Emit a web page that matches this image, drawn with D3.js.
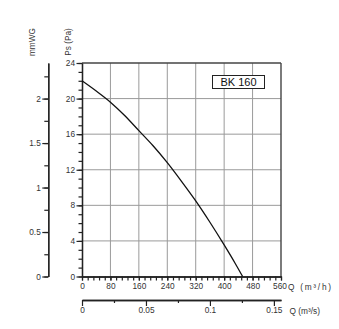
<!DOCTYPE html>
<html>
<head>
<meta charset="utf-8">
<script src="https://cdn.jsdelivr.net/npm/d3@7"></script>
<style>
  html, body { margin: 0; padding: 0; background: #fff; }
  svg { display: block; font-family: "Liberation Sans", Arial, sans-serif; }
</style>
</head>
<body>
<svg id="chart" width="339" height="329"></svg>
<script>
// Fan curve: airflow Q (m³/h) vs static pressure Ps (Pa)
const flowM3h = [0, 40, 80, 120, 160, 200, 240, 280, 320, 360, 400, 430, 452];
const pressurePa = [22, 20.85, 19.6, 18.1, 16.4, 14.7, 12.8, 10.7, 8.5, 6.1, 3.55, 1.55, 0];

const qTicks = [0, 80, 160, 240, 320, 400, 480, 560];
const paTicks = [0, 4, 8, 12, 16, 20, 24];
const mmTicks = [0, 0.5, 1, 1.5, 2];
const m3sTicks = [0, 0.05, 0.1, 0.15];
const modelLabel = "BK 160";

const svg = d3.select("#chart");
const plotL = 82, plotR = 281, plotT = 63, plotB = 276.5;

const x = d3.scaleLinear().domain([0, 560]).range([plotL, plotR]);
const y = d3.scaleLinear().domain([0, 24]).range([plotB, plotT]);
const yMm = d3.scaleLinear().domain([0, 2.4]).range([plotB, plotT]);
const xS = d3.scaleLinear().domain([0, 560 / 3600]).range([plotL, plotR]);

const axisCol = "#222";
const gridCol = "#9a9a9a";
const textCol = "#333";
const fs = 8.3;

// grid
const grid = svg.append("g");
grid.selectAll(".vg").data(qTicks.slice(1, -1)).join("line")
  .attr("x1", d => x(d)).attr("x2", d => x(d))
  .attr("y1", plotT).attr("y2", plotB)
  .attr("stroke", gridCol).attr("stroke-width", 1);
grid.selectAll(".hg").data(paTicks.slice(1, -1)).join("line")
  .attr("x1", plotL).attr("x2", plotR)
  .attr("y1", d => y(d)).attr("y2", d => y(d))
  .attr("stroke", gridCol).attr("stroke-width", 1);

// frame: top and right borders
svg.append("line").attr("x1", plotL).attr("x2", plotR).attr("y1", plotT).attr("y2", plotT)
  .attr("stroke", "#444").attr("stroke-width", 1.4);
svg.append("line").attr("x1", plotR).attr("x2", plotR).attr("y1", plotT).attr("y2", plotB)
  .attr("stroke", "#444").attr("stroke-width", 1.4);

function styleAxis(g) {
  g.selectAll("path.domain").attr("stroke", axisCol).attr("stroke-width", 1.3);
  g.selectAll(".tick line").attr("stroke", axisCol).attr("stroke-width", 1.2);
  g.selectAll("text").attr("fill", textCol).style("font-size", fs + "px")
    .style("font-family", "'Liberation Sans', Arial, sans-serif");
}

// Ps (Pa) axis
const gPaMinor = svg.append("g").attr("transform", `translate(${plotL},0)`)
  .call(d3.axisLeft(y).tickValues(d3.range(0, 25, 1)).tickSize(3.5).tickFormat("").tickSizeOuter(0));
styleAxis(gPaMinor);
const gPa = svg.append("g").attr("transform", `translate(${plotL},0)`)
  .call(d3.axisLeft(y).tickValues(paTicks).tickSize(5.5).tickPadding(1.5).tickSizeOuter(0));
styleAxis(gPa);

// mmWG axis
const mmX = 48.3;
const gMmMinor = svg.append("g").attr("transform", `translate(${mmX},0)`)
  .call(d3.axisLeft(yMm).tickValues(d3.range(0, 2.3, 0.25)).tickSize(4).tickFormat("").tickSizeOuter(0));
styleAxis(gMmMinor);
const gMm = svg.append("g").attr("transform", `translate(${mmX},0)`)
  .call(d3.axisLeft(yMm).tickValues(mmTicks).tickSize(6).tickPadding(1.5).tickFormat(d3.format("")).tickSizeOuter(0));
styleAxis(gMm);

// Q (m³/h) axis
const gQMinor = svg.append("g").attr("transform", `translate(0,${plotB})`)
  .call(d3.axisBottom(x).tickValues(d3.range(0, 561, 16)).tickSize(4).tickFormat("").tickSizeOuter(0));
styleAxis(gQMinor);
const gQ = svg.append("g").attr("transform", `translate(0,${plotB})`)
  .call(d3.axisBottom(x).tickValues(qTicks).tickSize(4).tickPadding(2.5).tickSizeOuter(0));
styleAxis(gQ);
gQ.selectAll(".tick text").filter(d => d === 560).attr("dx", "-1.5");

// Q (m³/s) axis
const sY = 300;
const gSMinor = svg.append("g").attr("transform", `translate(0,${sY})`)
  .call(d3.axisBottom(xS).tickValues([0.025, 0.075, 0.125]).tickSize(3).tickFormat("").tickSizeOuter(0));
styleAxis(gSMinor);
const gS = svg.append("g").attr("transform", `translate(0,${sY})`)
  .call(d3.axisBottom(xS).tickValues(m3sTicks).tickSize(6).tickPadding(1.5).tickFormat(d3.format("")).tickSizeOuter(0));
styleAxis(gS);

// unit labels
svg.append("text").attr("x", 288).attr("y", plotB + 13.5)
  .attr("textLength", 43).attr("lengthAdjust", "spacing")
  .attr("fill", textCol).style("font-size", fs + "px").text("Q (m³/h)");
svg.append("text").attr("x", 289.5).attr("y", sY + 13.5)
  .attr("fill", textCol).style("font-size", fs + "px").text("Q (m³/s)");
svg.append("text").attr("transform", "translate(35,42) rotate(-90)")
  .attr("text-anchor", "middle").attr("fill", textCol).style("font-size", fs + "px").text("mmWG");
svg.append("text").attr("transform", "translate(70.5,42) rotate(-90)")
  .attr("text-anchor", "middle").attr("fill", textCol).style("font-size", fs + "px").text("Ps (Pa)");

// performance curve
const line = d3.line().x((d, i) => x(flowM3h[i])).y(d => y(d)).curve(d3.curveMonotoneX);
svg.append("path").datum(pressurePa).attr("d", line)
  .attr("fill", "none").attr("stroke", "#111").attr("stroke-width", 1.3);

// model label box
const box = svg.append("g");
box.append("rect").attr("x", 212.5).attr("y", 75.5).attr("width", 52).attr("height", 13)
  .attr("fill", "#fff").attr("stroke", "#222").attr("stroke-width", 1);
box.append("text").attr("x", 238.5).attr("y", 86).attr("text-anchor", "middle")
  .attr("fill", "#111").style("font-size", "11px").text(modelLabel);
</script>
</body>
</html>
